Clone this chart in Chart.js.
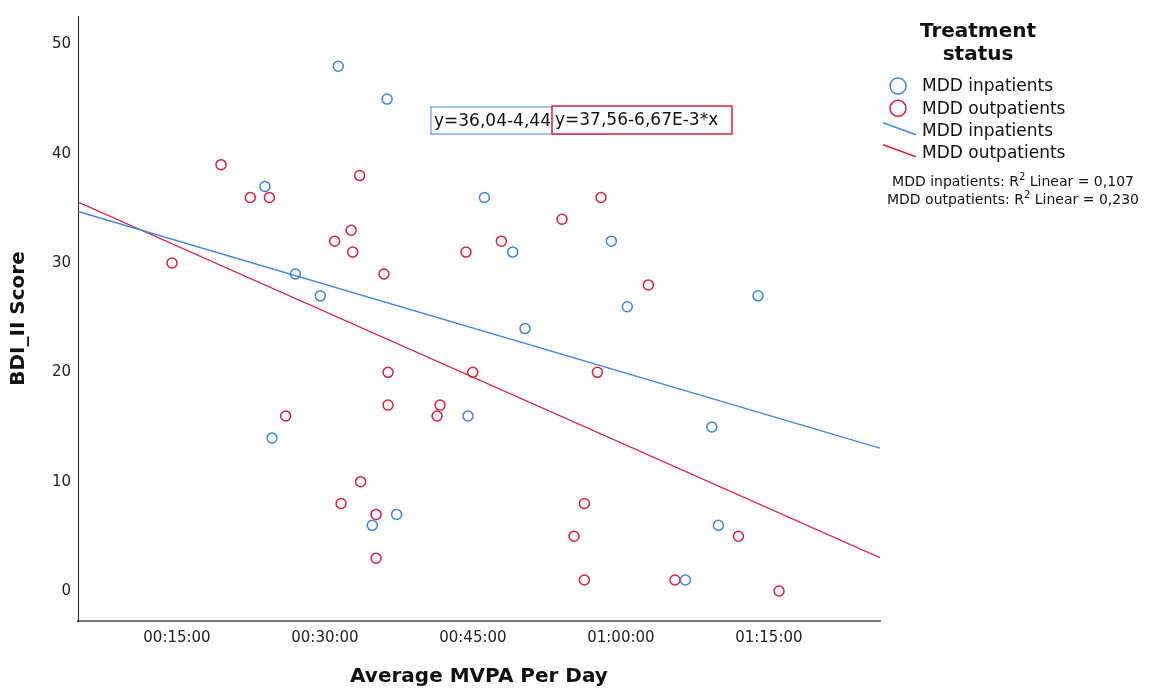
<!DOCTYPE html>
<html>
<head>
<meta charset="utf-8">
<script src="https://cdn.jsdelivr.net/npm/chart.js@4.4.1/dist/chart.umd.min.js"></script>
<style>
  html, body { margin: 0; background: #fff; }
  #wrap { width: 1149px; height: 689px; }
</style>
</head>
<body>
<div id="wrap"><canvas id="c"></canvas></div>
<script>
// Average MVPA per day (seconds) vs BDI-II score, by treatment status
const groups = ['MDD inpatients', 'MDD outpatients'];
const colors = ['#3f83e4', '#d8203c'];

const inpSec = [1881, 2178, 1435, 1620, 1772, 2770, 3542, 2942, 3639, 4434, 1478, 2670, 2236, 2088, 3017, 4153, 4193, 3992];
const inpBdi = [48, 45, 37, 29, 27, 36, 32, 31, 26, 27, 14, 16, 7, 6, 24, 15, 6, 1];

const outSec = [1168, 1346, 1462, 2011, 1959, 1859, 1969, 2658, 2159, 870, 3479, 3242, 2873, 3767, 2184, 2184,
  2500, 2482, 2699, 1561, 2017, 1898, 2111, 2111, 3457, 3378, 3315, 3378, 3929, 4315, 4562];
const outBdi = [39, 36, 36, 38, 33, 32, 31, 31, 29, 30, 36, 34, 32, 28, 20, 17,
  17, 16, 20, 16, 10, 8, 7, 3, 20, 8, 5, 1, 1, 5, 0];

// fit lines as printed by SPSS (x in seconds)
const fitIntercept = [36.04, 37.56];
const fitSlope = [-4.44e-3, -6.67e-3];
const fitR2 = [0.107, 0.230];

const xTicks = [900, 1800, 2700, 3600, 4500];
const yTicks = [0, 10, 20, 30, 40, 50];
const X_MIN = 298, X_MAX = 5176, Y_MIN = -2.75, Y_MAX = 52.6;

const FONT = 'DejaVu Sans';
const comma = (v, d) => v.toFixed(d).replace('.', ',');
const hms = s => [Math.floor(s / 3600), Math.floor(s / 60) % 60, s % 60].map(n => String(n).padStart(2, '0')).join(':');
const pts = (xs, ys) => xs.map((x, i) => ({ x, y: ys[i] }));
const fitPts = g => [X_MIN, X_MAX].map(x => ({ x, y: fitIntercept[g] + fitSlope[g] * x }));
const eqText = g => `y=${comma(fitIntercept[g], 2)}-${comma(-fitSlope[g] * 1000, 2)}E-3*x`;

const overlay = {
  id: 'overlay',
  afterDatasetsDraw(chart) {
    const ctx = chart.ctx, a = chart.chartArea;
    ctx.save();
    ctx.textBaseline = 'middle';
    // equation boxes (blue one partly covered by red one)
    const boxes = [{ x: a.left + 353, y: a.top + 91, w: 178, h: 27 }, { x: a.left + 474, y: a.top + 90, w: 180, h: 28 }];
    boxes.forEach((b, g) => {
      ctx.fillStyle = '#fff';
      ctx.fillRect(b.x, b.y, b.w, b.h);
      ctx.strokeStyle = colors[g]; ctx.lineWidth = g ? 1.5 : 1;
      ctx.strokeRect(b.x, b.y, b.w, b.h);
      ctx.fillStyle = '#111'; ctx.font = `17px ${FONT}`; ctx.textAlign = 'left';
      ctx.fillText(eqText(g), b.x + 3, b.y + b.h / 2 + 1);
    });
    ctx.restore();
  },
  afterDraw(chart) {
    const ctx = chart.ctx;
    ctx.save();
    ctx.fillStyle = '#111';
    ctx.textBaseline = 'middle';
    ctx.textAlign = 'center';
    ctx.font = `bold 20px ${FONT}`;
    ctx.fillText('Treatment', 978, 32);
    ctx.fillText('status', 978, 55);
    ctx.textAlign = 'left';
    ctx.font = `17px ${FONT}`;
    groups.forEach((name, g) => {
      ctx.strokeStyle = colors[g]; ctx.lineWidth = 1.5;
      ctx.beginPath(); ctx.arc(898, 86 + g * 22.3, 8, 0, Math.PI * 2); ctx.stroke();
      ctx.fillText(name, 922, 87 + g * 22.3);
      const ly = 130.7 + g * 22;
      ctx.beginPath(); ctx.moveTo(883, ly - 8); ctx.lineTo(916, ly + 4); ctx.stroke();
      ctx.fillText(name, 922, ly + 1);
    });
    // R² notes
    groups.forEach((name, g) => {
      const y = 182 + g * 18;
      const parts = [[`${name}: R`, 14, 0], ['2', 10, -5], [` Linear = ${comma(fitR2[g], 3)}`, 14, 0]];
      let w = 0;
      parts.forEach(p => { ctx.font = `${p[1]}px ${FONT}`; w += ctx.measureText(p[0]).width; });
      let x = 1013 - w / 2;
      parts.forEach(p => {
        ctx.font = `${p[1]}px ${FONT}`;
        ctx.fillText(p[0], x, y + p[2]);
        x += ctx.measureText(p[0]).width;
      });
    });
    ctx.restore();
  }
};

const scatter = (g, xs, ys) => ({
  type: 'scatter', label: groups[g], data: pts(xs, ys), order: 2,
  pointStyle: 'circle', pointRadius: 5, pointHoverRadius: 5,
  borderColor: colors[g], borderWidth: 1.5, backgroundColor: 'rgba(255,255,255,0)'
});
const fitLine = g => ({
  type: 'line', label: groups[g] + ' fit', data: fitPts(g), order: 1,
  borderColor: colors[g], borderWidth: 1.3, pointRadius: 0, fill: false
});

new Chart(document.getElementById('c'), {
  type: 'scatter',
  data: { datasets: [scatter(0, inpSec, inpBdi), scatter(1, outSec, outBdi), fitLine(0), fitLine(1)] },
  options: {
    responsive: true, maintainAspectRatio: false, animation: false,
    layout: { padding: { top: 13, right: 269, left: 0, bottom: 0 } },
    plugins: { legend: { display: false }, tooltip: { enabled: false } },
    scales: {
      x: {
        type: 'linear', min: X_MIN, max: X_MAX,
        afterBuildTicks: s => { s.ticks = xTicks.map(v => ({ value: v })); },
        afterFit: s => { s.height = 68; },
        grid: { display: false, drawTicks: false },
        border: { color: '#777', width: 2 },
        ticks: { callback: v => hms(v), font: { family: FONT, size: 15 }, color: '#222', padding: 8, maxRotation: 0 },
        title: { display: true, text: 'Average MVPA Per Day', font: { family: FONT, size: 20, weight: 'bold' }, color: '#111', padding: { top: 0, bottom: 0 } }
      },
      y: {
        min: Y_MIN, max: Y_MAX,
        afterBuildTicks: s => { s.ticks = yTicks.map(v => ({ value: v })); },
        afterFit: s => { s.width = 78; },
        grid: { display: false, drawTicks: false },
        border: { color: '#222', width: 1 },
        ticks: { font: { family: FONT, size: 15 }, color: '#222', padding: 7 },
        title: { display: true, text: 'BDI_II Score', font: { family: FONT, size: 20, weight: 'bold' }, color: '#111', padding: { top: 7, bottom: 0 } }
      }
    }
  },
  plugins: [overlay]
});
</script>
</body>
</html>
